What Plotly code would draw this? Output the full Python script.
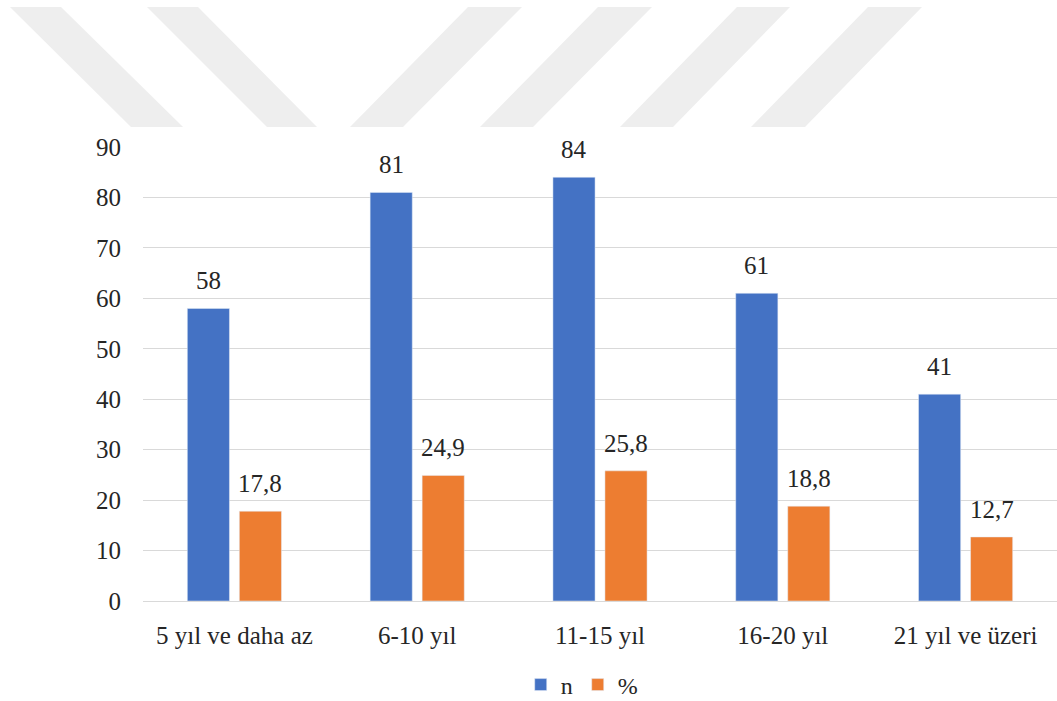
import plotly.graph_objects as go

# ---------------- data ----------------
categories = ["5 yıl ve daha az", "6-10 yıl", "11-15 yıl", "16-20 yıl", "21 yıl ve üzeri"]
n_values = [58, 81, 84, 61, 41]
pct_values = [17.8, 24.9, 25.8, 18.8, 12.7]
series_names = ["n", "%"]
y_ticks = [0, 10, 20, 30, 40, 50, 60, 70, 80, 90]

# ---------------- styling ----------------
W, H = 1057, 701
ML, MR, MT, MB = 143, 0, 147, 100
BLUE, ORANGE = "#4472C4", "#ED7D31"
FONT = "Liberation Serif"
TXT = "#262626"

fig = go.Figure()
fig.add_trace(go.Bar(x=categories, y=n_values, name=series_names[0],
                     marker=dict(color=BLUE)))
fig.add_trace(go.Bar(x=categories, y=pct_values, name=series_names[1],
                     marker=dict(color=ORANGE)))

# value labels (placed via axis coordinates)
bargap, groupgap = 0.431, 0.19
plot_w = W - ML - MR
slot = (1 - bargap) * plot_w / len(categories) / 2
annotations = []
for vals, sign, fmt in [(n_values, -1, lambda v: f"{v:g}"),
                        (pct_values, 1, lambda v: f"{v:.1f}".replace(".", ","))]:
    for c, v in zip(categories, vals):
        annotations.append(dict(x=c, y=v, xref="x", yref="y", text=fmt(v),
                                showarrow=False, xanchor="center", yanchor="bottom",
                                xshift=sign * slot / 2, yshift=12,
                                font=dict(family=FONT, size=25, color=TXT)))

# watermark decoration (pixel polygons -> paper coords)
plot_h = H - MT - MB
stripes = [
    [(10, 7), (61, 7), (183, 127), (131, 127)],
    [(147, 7), (198, 7), (317, 127), (267, 127)],
    [(468, 7), (522, 7), (403, 127), (350, 127)],
    [(598, 7), (652, 7), (533, 127), (480, 127)],
    [(737, 7), (790, 7), (673, 127), (620, 127)],
    [(868, 7), (922, 7), (805, 127), (751, 127)],
]
shapes = []
for poly in stripes:
    pts = [((px - ML) / plot_w, (H - MB - py) / plot_h) for px, py in poly]
    path = "M " + " L ".join(f"{x:.5f},{y:.5f}" for x, y in pts) + " Z"
    shapes.append(dict(type="path", path=path, xref="paper", yref="paper",
                       fillcolor="#eeeeee", line=dict(width=0), layer="below"))

fig.update_layout(
    width=W, height=H,
    margin=dict(l=ML, r=MR, t=MT, b=MB, autoexpand=False),
    paper_bgcolor="white", plot_bgcolor="white",
    barmode="group", bargap=bargap, bargroupgap=groupgap,
    legend=dict(orientation="h", x=0.48, xanchor="center", y=-0.185, yanchor="middle",
                font=dict(family=FONT, size=24, color=TXT)),
    annotations=annotations,
    shapes=shapes,
)
fig.update_yaxes(range=[0, 90], tickvals=y_ticks, gridcolor="#d9d9d9",
                 zeroline=False, ticks="outside", ticklen=16,
                 tickcolor="rgba(255,255,255,0)",
                 tickfont=dict(family=FONT, size=25, color=TXT))
fig.update_xaxes(showline=True, linecolor="#d9d9d9", ticks="outside", ticklen=12,
                 tickcolor="rgba(255,255,255,0)",
                 tickfont=dict(family=FONT, size=25, color=TXT))

fig.write_html("out.html")
